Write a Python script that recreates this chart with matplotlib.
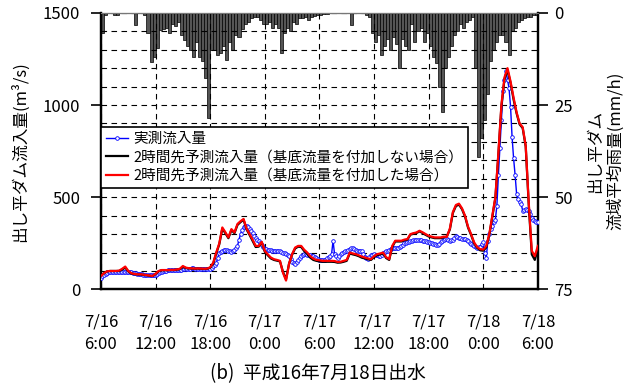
import numpy as np
import pandas as pd
import matplotlib
matplotlib.use("Agg")
import matplotlib.pyplot as plt
import matplotlib.dates as mdates
from matplotlib.ticker import MultipleLocator

plt.rcParams['font.family'] = ['Noto Sans CJK JP', 'DejaVu Sans']

start = pd.Timestamp("2004-07-16 06:00")

# 流域平均雨量 (mm/h), 20分ごと
rain = [
    5.5, 0.5, 0, 0, 0.7, 0.5, 0, 0, 0, 0, 0, 3.3,
    0, 0, 0.5, 5.5, 13.2, 12, 9.5, 4.6, 4.5, 4, 5.5, 3,
    3.5, 2.5, 6, 7.5, 9, 10, 12, 8, 12, 13, 17.8, 28.6,
    10, 10, 11.4, 11, 9, 12.8, 8, 10, 6, 6.5, 4.5, 3,
    2.5, 1.5, 1, 1, 2, 3, 3, 2.5, 4, 3, 4, 10.8,
    5.5, 4, 5, 2.5, 3, 1.5, 1.5, 1, 2, 1, 0.8, 0.5,
    0.5, 0.3, 0.2, 0, 0, 0, 0, 0, 0, 0, 3.3, 0,
    0, 0, 0, 0.5, 1, 5.5, 8, 6, 11.4, 9, 7, 10,
    6.5, 8.5, 15, 7, 9, 10, 3, 8, 5, 4, 8, 5.5,
    9, 12, 13.5, 20, 27, 15, 12, 9, 6, 5, 3, 4,
    2.5, 2, 1, 15, 39, 34, 29, 22, 13, 10, 8, 6,
    6, 8, 11.4, 5, 4, 2.5, 2, 1.5, 1, 1, 0.5, 0.5,
]

# 実測流入量 (m3/s), 10分ごと
obs_flow = [
    64, 72, 80, 86, 90, 92,
    93, 94, 95, 95, 95, 95,
    95, 95, 95, 95, 94, 94,
    94, 93, 92, 90, 88, 87,
    85, 84, 82, 81, 80, 79,
    78, 77, 76, 76, 76, 76,
    78, 82, 88, 92, 96, 98,
    100, 102, 103, 104, 105, 105,
    106, 106, 106, 107, 107, 108,
    110, 111, 112, 112, 113, 113,
    114, 114, 113, 113, 112, 111,
    110, 110, 109, 109, 110, 111,
    113, 118, 125, 135, 145, 170,
    200, 205, 208, 212, 214, 213,
    210, 207, 204, 208, 215, 225,
    236, 270, 300, 320, 336, 342,
    345, 338, 330, 318, 305, 292,
    280, 270, 260, 250, 240, 230,
    220, 218, 215, 213, 212, 211,
    210, 209, 208, 207, 206, 203,
    200, 195, 190, 186, 182, 165,
    150, 145, 140, 150, 160, 170,
    180, 186, 191, 190, 188, 186,
    184, 182, 180, 175, 170, 165,
    160, 159, 158, 160, 162, 168,
    175, 182, 190, 264, 191, 180,
    173, 182, 190, 198, 205, 208,
    210, 215, 220, 222, 225, 218,
    212, 210, 209, 209, 209, 190,
    175, 170, 164, 175, 185, 188,
    191, 188, 185, 183, 182, 188,
    195, 202, 209, 210, 212, 217,
    222, 224, 225, 226, 227, 231,
    235, 243, 250, 253, 255, 258,
    262, 265, 268, 269, 270, 270,
    269, 267, 265, 263, 262, 258,
    255, 252, 250, 247, 245, 242,
    240, 248, 255, 262, 270, 272,
    273, 268, 264, 267, 270, 280,
    287, 283, 280, 277, 275, 274,
    273, 266, 260, 252, 245, 240,
    235, 231, 227, 228, 230, 245,
    255, 200, 173, 260, 300, 330,
    345, 365, 378, 455, 621, 766,
    920, 1074, 1137, 1183, 1137, 1092,
    992, 829, 712, 621, 518, 490,
    476, 464, 427, 433, 436, 433,
    427, 409, 386, 375, 370, 368,
    365,
]

# 2時間先予測流入量 (基底流量なし), 20分ごと
pred_no_base = [
    73, 88, 98, 100, 100, 100, 100, 108, 118, 98, 86, 83,
    81, 81, 79, 77, 74, 72, 83, 98, 104, 104, 104, 105,
    105, 107, 110, 122, 116, 114, 113, 112, 113, 112, 111, 112,
    118, 140, 195, 245, 330, 305, 278, 322, 305, 350, 365, 378,
    325, 295, 262, 230, 232, 255, 205, 185, 168, 160, 156, 152,
    95, 55, 140, 188, 222, 232, 230, 208, 192, 172, 160, 155,
    152, 150, 150, 150, 150, 149, 145, 146, 150, 155, 195, 190,
    186, 180, 172, 168, 163, 160, 175, 186, 190, 195, 170, 160,
    230, 260, 260, 260, 266, 270, 297, 302, 306, 315, 306, 296,
    287, 282, 278, 278, 278, 282, 287, 325, 415, 452, 460, 435,
    395, 335, 295, 250, 225, 212, 210, 228, 295, 395, 495, 735,
    995, 1140, 1190, 1120, 1030, 955, 895, 875, 775, 460, 190, 160,
    220,
]

# 2時間先予測流入量 (基底流量あり), 20分ごと
pred_base = [
    73, 88, 98, 100, 100, 100, 102, 112, 124, 100, 88, 84,
    82, 82, 80, 78, 75, 73, 85, 100, 105, 105, 105, 106,
    106, 108, 112, 127, 118, 115, 114, 113, 114, 113, 112, 113,
    120, 145, 200, 250, 336, 310, 282, 327, 309, 355, 370, 382,
    330, 300, 270, 236, 236, 258, 209, 190, 173, 164, 160, 155,
    90, 48, 140, 191, 227, 236, 236, 215, 200, 180, 167, 160,
    158, 155, 155, 155, 155, 154, 149, 150, 155, 160, 200, 195,
    191, 185, 178, 173, 168, 164, 180, 191, 195, 200, 175, 164,
    236, 264, 264, 264, 270, 273, 300, 305, 309, 318, 310, 300,
    291, 286, 282, 282, 282, 286, 285, 330, 420, 458, 465, 440,
    400, 340, 300, 255, 230, 218, 216, 235, 300, 400, 500, 740,
    1002, 1150, 1200, 1128, 1040, 960, 900, 880, 780, 470, 210, 180,
    236,
]

tick_labels = ["7/16\n6:00", "7/16\n12:00", "7/16\n18:00", "7/17\n0:00",
               "7/17\n6:00", "7/17\n12:00", "7/17\n18:00", "7/18\n0:00",
               "7/18\n6:00"]

rain_t = mdates.date2num(pd.date_range(start, periods=len(rain), freq="20min").to_pydatetime())
obs_t = mdates.date2num(pd.date_range(start, periods=len(obs_flow), freq="10min").to_pydatetime())
pred_t = mdates.date2num(pd.date_range(start, periods=len(pred_base), freq="20min").to_pydatetime())
tick_t = mdates.date2num(pd.date_range(start, periods=len(tick_labels), freq="6h").to_pydatetime())

fig = plt.figure(figsize=(6.35, 3.89), dpi=100)
ax = fig.add_axes([0.159, 0.256, 0.688, 0.711])
ax2 = ax.twinx()
ax.set_zorder(ax2.get_zorder() + 1)
ax.patch.set_visible(False)

# 雨量 (上から下向き)
ax2.bar(rain_t, rain, width=20 / 1440, align="edge", color="#555555",
        edgecolor="black", linewidth=0.5)
ax2.set_ylim(75, 0)
ax2.set_yticks([0, 25, 50, 75])
ax2.tick_params(axis="y", direction="out", length=7, width=1.2, labelsize=12, pad=5)
ax2.set_ylabel("出し平ダム\n流域平均雨量(mm/h)", fontsize=12, rotation=90,
               labelpad=10, linespacing=1.2)

# 流入量
ax.plot(obs_t, obs_flow, color="#0000ff", lw=1.0, marker="o", ms=2.6,
        mfc="white", mec="#0000ff", mew=0.6, label="実測流入量", zorder=3)
ax.plot(pred_t, pred_no_base, color="black", lw=1.6,
        label="2時間先予測流入量（基底流量を付加しない場合）", zorder=4)
ax.plot(pred_t, pred_base, color="#ff0000", lw=1.6,
        label="2時間先予測流入量（基底流量を付加した場合）", zorder=5)

ax.set_ylim(0, 1500)
ax.set_yticks([0, 500, 1000, 1500])
ax.yaxis.set_minor_locator(MultipleLocator(100))
ax.tick_params(axis="y", which="major", direction="out", length=7, width=1.2,
               labelsize=12, pad=8)
ax.tick_params(axis="y", which="minor", length=0)
ax.set_ylabel("出し平ダム流入量(m³/s)", fontsize=12, labelpad=10)

ax.set_xlim(tick_t[0], tick_t[-1])
ax.set_xticks(tick_t)
ax.set_xticklabels(tick_labels)
ax.tick_params(axis="x", length=0, pad=17, labelsize=12)
for lbl in ax.get_xticklabels():
    lbl.set_linespacing(1.45)

ax.grid(axis="y", which="both", linestyle=(0, (5, 4)), color="black", linewidth=0.8, zorder=1)
ax.grid(axis="x", which="major", linestyle=(0, (5, 4)), color="black", linewidth=0.8, zorder=1)

for sp in ["left", "right", "bottom"]:
    ax.spines[sp].set_linewidth(1.6)
    ax2.spines[sp].set_linewidth(1.6)
ax.spines["top"].set_linewidth(0.8)
ax.spines["top"].set_color("#777777")

leg = ax.legend(loc="upper left", bbox_to_anchor=(0.0, 0.587), borderaxespad=0,
                fontsize=10.5, handlelength=1.5, handletextpad=0.35,
                labelspacing=0.3, borderpad=0.35, fancybox=False,
                framealpha=1, edgecolor="black")
leg.get_frame().set_linewidth(1.2)

fig.text(0.5, 0.039, "(b)  平成16年7月18日出水", ha="center", va="center", fontsize=13.5)

fig.savefig("out.png", dpi=100)
